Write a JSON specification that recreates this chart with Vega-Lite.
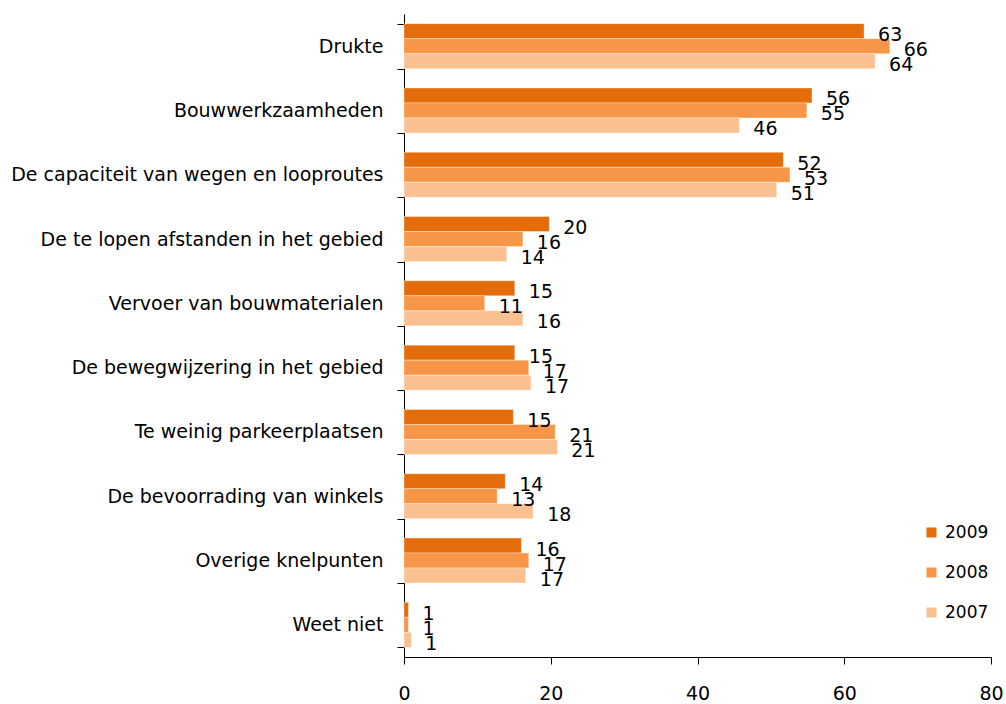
{
  "$schema": "https://vega.github.io/schema/vega-lite/v6.json",
  "width": 587,
  "height": 643,
  "autosize": {"type": "none"},
  "padding": {"left": 404, "top": 14, "right": 15, "bottom": 47},
  "background": "white",
  "config": {
    "view": {"stroke": null},
    "font": "DejaVu Sans"
  },
  "data": {
    "values": [
      {"cat": "Drukte", "year": "2009", "value": 62.7},
      {"cat": "Drukte", "year": "2008", "value": 66.2},
      {"cat": "Drukte", "year": "2007", "value": 64.2},
      {"cat": "Bouwwerkzaamheden", "year": "2009", "value": 55.6},
      {"cat": "Bouwwerkzaamheden", "year": "2008", "value": 54.9},
      {"cat": "Bouwwerkzaamheden", "year": "2007", "value": 45.7},
      {"cat": "De capaciteit van wegen en looproutes", "year": "2009", "value": 51.7},
      {"cat": "De capaciteit van wegen en looproutes", "year": "2008", "value": 52.6},
      {"cat": "De capaciteit van wegen en looproutes", "year": "2007", "value": 50.8},
      {"cat": "De te lopen afstanden in het gebied", "year": "2009", "value": 19.8},
      {"cat": "De te lopen afstanden in het gebied", "year": "2008", "value": 16.2},
      {"cat": "De te lopen afstanden in het gebied", "year": "2007", "value": 14.0},
      {"cat": "Vervoer van bouwmaterialen", "year": "2009", "value": 15.1},
      {"cat": "Vervoer van bouwmaterialen", "year": "2008", "value": 11.0},
      {"cat": "Vervoer van bouwmaterialen", "year": "2007", "value": 16.2},
      {"cat": "De bewegwijzering in het gebied", "year": "2009", "value": 15.1},
      {"cat": "De bewegwijzering in het gebied", "year": "2008", "value": 17.0},
      {"cat": "De bewegwijzering in het gebied", "year": "2007", "value": 17.3},
      {"cat": "Te weinig parkeerplaatsen", "year": "2009", "value": 14.9},
      {"cat": "Te weinig parkeerplaatsen", "year": "2008", "value": 20.6},
      {"cat": "Te weinig parkeerplaatsen", "year": "2007", "value": 20.9},
      {"cat": "De bevoorrading van winkels", "year": "2009", "value": 13.8},
      {"cat": "De bevoorrading van winkels", "year": "2008", "value": 12.7},
      {"cat": "De bevoorrading van winkels", "year": "2007", "value": 17.6},
      {"cat": "Overige knelpunten", "year": "2009", "value": 16.0},
      {"cat": "Overige knelpunten", "year": "2008", "value": 17.0},
      {"cat": "Overige knelpunten", "year": "2007", "value": 16.6},
      {"cat": "Weet niet", "year": "2009", "value": 0.6},
      {"cat": "Weet niet", "year": "2008", "value": 0.6},
      {"cat": "Weet niet", "year": "2007", "value": 1.0}
    ]
  },
  "encoding": {
    "y": {
      "field": "cat",
      "type": "nominal",
      "sort": null,
      "scale": {"paddingInner": 0.3, "paddingOuter": 0.15},
      "axis": {
        "title": null,
        "tickBand": "extent",
        "tickSize": 7,
        "tickColor": "black",
        "domainColor": "black",
        "labelFontSize": 19,
        "labelColor": "black",
        "labelPadding": 14,
        "labelLimit": 420
      }
    },
    "yOffset": {"field": "year", "type": "nominal", "sort": ["2009", "2008", "2007"]},
    "x": {
      "field": "value",
      "type": "quantitative",
      "scale": {"domain": [0, 80], "nice": false},
      "axis": {
        "title": null,
        "values": [0, 20, 40, 60, 80],
        "grid": false,
        "tickSize": 7,
        "tickColor": "black",
        "domainColor": "black",
        "labelFontSize": 19,
        "labelColor": "black",
        "labelPadding": 20,
        "labelFlush": false
      }
    }
  },
  "layer": [
    {
      "mark": {"type": "bar", "stroke": "white", "strokeWidth": 0.6, "strokeOpacity": 0.6},
      "encoding": {
        "color": {
          "field": "year",
          "type": "nominal",
          "scale": {"domain": ["2009", "2008", "2007"], "range": ["#E46C0A", "#F79646", "#FAC090"]},
          "legend": {
            "title": null,
            "orient": "none",
            "legendX": 519,
            "legendY": 510,
            "symbolType": "square",
            "symbolSize": 100,
            "symbolStrokeWidth": 0,
            "labelFontSize": 17,
            "labelColor": "black",
            "labelOffset": 5,
            "rowPadding": 22
          }
        }
      }
    },
    {
      "mark": {"type": "text", "align": "left", "baseline": "middle", "dx": 14, "dy": 4, "fontSize": 19, "color": "black"},
      "encoding": {
        "text": {"field": "value", "type": "quantitative", "format": ".0f"}
      }
    }
  ]
}
